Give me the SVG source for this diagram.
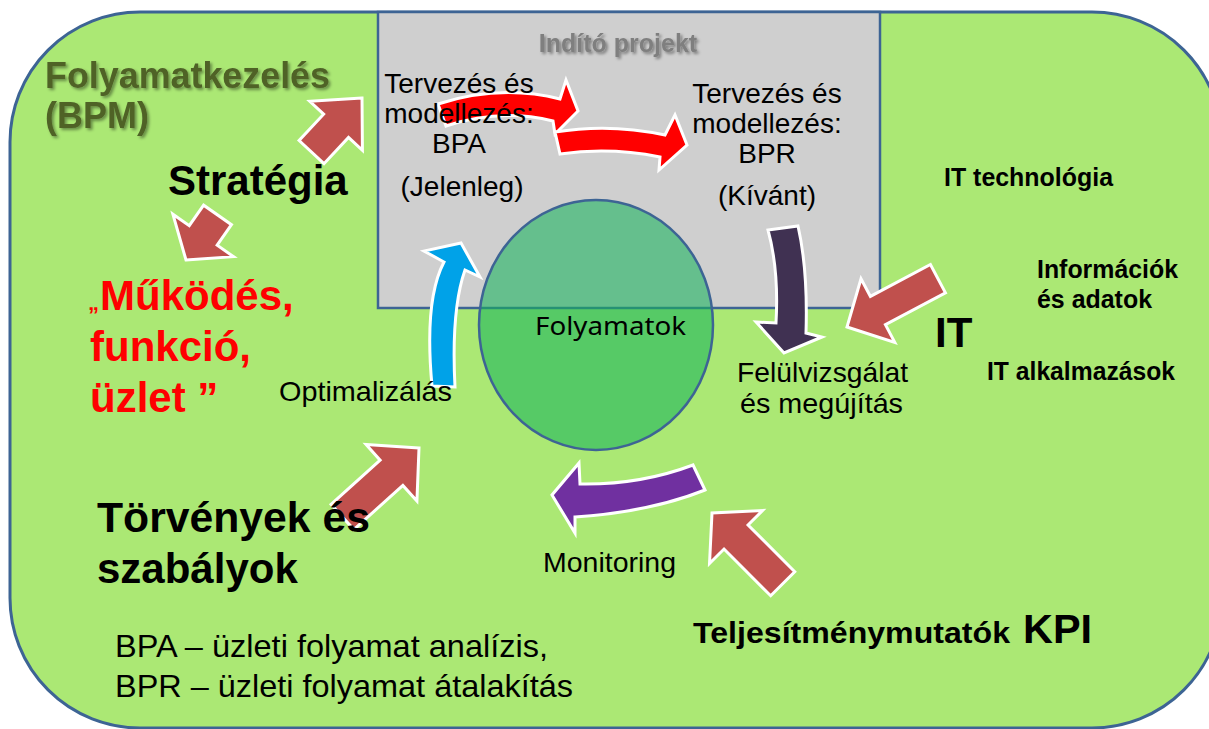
<svg xmlns="http://www.w3.org/2000/svg" width="1209" height="729" viewBox="0 0 1209 729">
<defs>
<style>
text{font-family:"Liberation Sans",Arial,sans-serif;fill:#000}
.b{font-weight:bold}
.r28{font-size:28px}
.c{text-anchor:middle}
.blk{fill:#c0504d;stroke:#fff;stroke-width:3;stroke-linejoin:miter}
.red{fill:#ff0000;stroke:#fff;stroke-width:3}
.bd{font-size:25px;font-weight:bold}
</style>
<filter id="sh" x="-10%" y="-20%" width="130%" height="160%">
<feDropShadow dx="2" dy="2" stdDeviation="1.5" flood-color="#000" flood-opacity="0.4"/>
</filter>
</defs>
<rect width="1209" height="729" fill="#fff"/>
<g id="bpm-area">
<rect x="10" y="12" width="1212" height="716" rx="130" ry="130" fill="#abe874" stroke="#3d6494" stroke-width="3"/>
</g>
<g id="indito-projekt">
<rect x="378" y="12" width="502" height="296" fill="#cfcfcf" stroke="#3d6494" stroke-width="2.5"/>
<text class="b c" x="618" y="52" font-size="25" style="fill:#7f7f7f" filter="url(#sh)">Indító projekt</text>
</g>
<g id="folyamatok">
<ellipse cx="596" cy="325" rx="117" ry="125" fill="#15b35b" fill-opacity="0.57" stroke="#3d6494" stroke-width="2.5"/>
<text x="535" y="335" font-size="25" textLength="151" lengthAdjust="spacingAndGlyphs" style="font-family:'Noto Sans','Open Sans',sans-serif">Folyamatok</text>
</g>
<g id="connectors">
<path class="red" d="M438,104 Q500,84 560,99 L566,80 L578,111 L555,134 L553,121 Q500,108 446,126 Z"/>
<path class="red" d="M555,132 Q610,123 665,135 L675,115 L687,145 L659,170 L660,157 Q610,147 560,154 Z"/>
<path d="M432,386 Q424,300 444,262 L424,251 L461,243 L480,277 L465,270 Q451,310 455,387 Z" fill="#00a2e8" stroke="#fff" stroke-width="3"/>
<path d="M768,230 Q779,270 776,323 L756,322 L784,353 L822,337 L806,333 Q808,270 798,226 Z" fill="#403152" stroke="#fff" stroke-width="3"/>
<path d="M693,465 Q640,485 580,484 L579,463 L552,495 L575,533 L575,517 Q650,512 705,490 Z" fill="#7030a0" stroke="#fff" stroke-width="3"/>
<path class="blk" transform="translate(362,98) rotate(-47)" d="M0,0 L-38,-36 L-38,-17 L-74,-17 L-74,17 L-38,17 L-38,36 Z"/>
<path class="blk" transform="translate(186,260) rotate(125)" d="M0,0 L-30,-37 L-30,-17 L-55,-17 L-55,17 L-30,17 L-30,37 Z"/>
<path class="blk" transform="translate(419,448) rotate(-42)" d="M0,0 L-37,-38 L-37,-17 L-103,-17 L-103,17 L-37,17 L-37,38 Z"/>
<path class="blk" transform="translate(847,327) rotate(152)" d="M0,0 L-35,-36 L-35,-16 L-103,-16 L-103,16 L-35,16 L-35,36 Z"/>
<path class="blk" transform="translate(712,513) rotate(-135)" d="M0,0 L-34,-37.5 L-34,-17 L-100,-17 L-100,17 L-34,17 L-34,37.5 Z"/>
</g>
<g id="bpm-title" filter="url(#sh)">
<text class="b" x="45" y="88" font-size="36" style="fill:#4f6228" textLength="285" lengthAdjust="spacingAndGlyphs">Folyamatkezelés</text>
<text class="b" x="45" y="128" font-size="36" style="fill:#4f6228">(BPM)</text>
</g>
<g id="bpa">
<text class="r28 c" x="459" y="93">Tervezés és</text>
<text class="r28 c" x="459" y="123">modellezés:</text>
<text class="r28 c" x="459" y="153">BPA</text>
<text class="r28 c" x="462" y="196">(Jelenleg)</text>
</g>
<g id="bpr">
<text class="r28 c" x="767" y="103">Tervezés és</text>
<text class="r28 c" x="767" y="133">modellezés:</text>
<text class="r28 c" x="767" y="163">BPR</text>
<text class="r28 c" x="767" y="205">(Kívánt)</text>
</g>
<g id="strategia">
<text class="b" x="168" y="195" font-size="42">Stratégia</text>
</g>
<g id="mukodes">
<text class="b" font-size="42" style="fill:#ff0000"><tspan x="88" y="310" font-size="22">„</tspan><tspan x="100" y="310">Működés,</tspan><tspan x="90" y="361">funkció,</tspan><tspan x="90" y="412">üzlet ”</tspan></text>
</g>
<g id="optimalizalas">
<text class="r28" x="279" y="401" textLength="173" lengthAdjust="spacingAndGlyphs">Optimalizálás</text>
</g>
<g id="felulvizsgalat">
<text class="r28" x="737" y="382" textLength="171" lengthAdjust="spacingAndGlyphs">Felülvizsgálat</text>
<text class="r28" x="740" y="413" textLength="163" lengthAdjust="spacingAndGlyphs">és megújítás</text>
</g>
<g id="monitoring">
<text class="r28" x="543" y="572" textLength="133" lengthAdjust="spacingAndGlyphs">Monitoring</text>
</g>
<g id="torvenyek">
<text class="b" x="97" y="532" font-size="42" textLength="273" lengthAdjust="spacingAndGlyphs">Törvények és</text>
<text class="b" x="97" y="583" font-size="42">szabályok</text>
</g>
<g id="legend">
<text x="115" y="657" font-size="32" textLength="433" lengthAdjust="spacingAndGlyphs">BPA – üzleti folyamat analízis,</text>
<text x="115" y="697" font-size="32" textLength="458" lengthAdjust="spacingAndGlyphs">BPR – üzleti folyamat átalakítás</text>
</g>
<g id="kpi">
<text class="b" x="693" y="643" font-size="30" textLength="317" lengthAdjust="spacingAndGlyphs">Teljesítménymutatók</text>
<text class="b" x="1023" y="643" font-size="41" textLength="69" lengthAdjust="spacingAndGlyphs">KPI</text>
</g>
<g id="it">
<text class="bd" x="944" y="186" textLength="169" lengthAdjust="spacingAndGlyphs">IT technológia</text>
<text class="bd" x="1037" y="278" textLength="141" lengthAdjust="spacingAndGlyphs">Információk</text>
<text class="bd" x="1037" y="308" textLength="115" lengthAdjust="spacingAndGlyphs">és adatok</text>
<text class="b" x="935" y="347" font-size="42">IT</text>
<text class="bd" x="987" y="380" textLength="188" lengthAdjust="spacingAndGlyphs">IT alkalmazások</text>
</g>
</svg>
